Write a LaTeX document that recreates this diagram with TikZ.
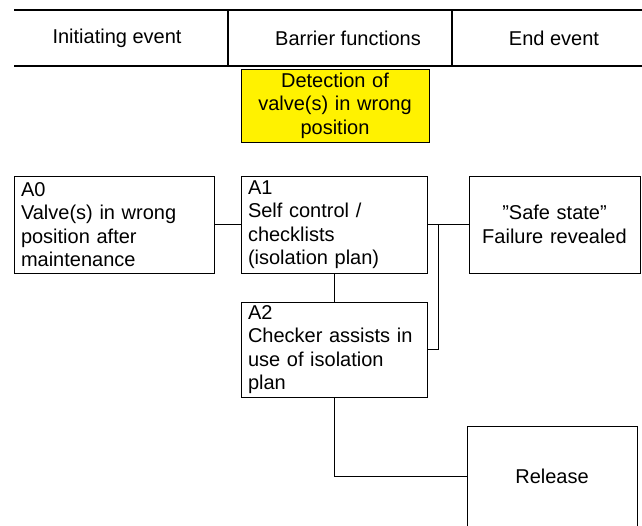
\documentclass[tikz,border=0pt]{standalone}
\usepackage{fontspec}
\setmainfont{Liberation Sans}
\newcommand{\fsz}{\fontsize{20}{23.5}\selectfont}
\begin{document}
\begin{tikzpicture}[x=1pt,y=-1pt,
  every node/.style={font=\fsz},
  box/.style={draw=black, line width=1pt, align=left, inner xsep=7pt, inner ysep=0pt, minimum height=97pt},
  cbox/.style={draw=black, line width=1pt, align=center, inner xsep=7pt, inner ysep=0pt, minimum height=97pt},
  hdr/.style={line width=2pt},
  conn/.style={draw=black, line width=1pt}]
\useasboundingbox (0,0) rectangle (642,525);
% header
\draw[hdr] (14,10) -- (642,10);
\draw[hdr] (14,66) -- (642,66);
\draw[hdr] (228,10) -- (228,66);
\draw[hdr] (452,10) -- (452,66);
\node (h1) at (117,38) {Initiating event};
\node (h2) at (348,38) {Barrier functions};
\node (h3) at (554,38) {End event};
% yellow box
\node[draw=black, line width=1pt, fill=yellow, align=center, text width=180pt, inner xsep=4pt, inner ysep=0pt, minimum height=73pt] (det) at (335,105.5) {Detection of\\valve(s) in wrong\\position};
% boxes
\node[box, text width=186pt] (a0) at (114,224.5) {A0\\Valve(s) in wrong\\position after\\maintenance};
\node[box, text width=172pt] (a1) at (334,224.5) {A1\\Self control /\\checklists\\(isolation plan)};
\node[cbox, text width=157pt] (safe) at (554.5,224.5) {”Safe state”\\Failure revealed};
\node[box, text width=172pt, minimum height=95pt] (a2) at (334,349.5) {A2\\Checker assists in\\use of isolation\\plan};
\node[cbox, text width=156pt, minimum height=100pt] (rel) at (552,476) {Release};
% connectors
\coordinate (j) at (438,224.5);
\draw[conn] (a0.east) -- (a1.west);
\draw[conn] (a1.east) -- (safe.west);
\draw[conn] (a2.east) -| (j);
\draw[conn] (a1.south) -- (a2.north);
\draw[conn] (a2.south) |- (rel.west);
\end{tikzpicture}
\end{document}
